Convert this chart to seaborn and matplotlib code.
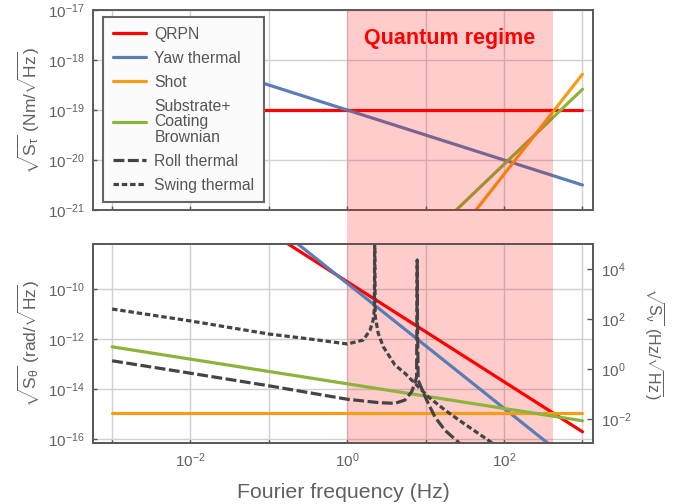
import matplotlib
matplotlib.use("Agg")
import matplotlib.pyplot as plt
import matplotlib.ticker as mticker
import matplotlib.transforms as mtransforms
from matplotlib.lines import Line2D
from matplotlib.patches import Rectangle
import seaborn as sns

# ----------------------------
# Data
# ----------------------------
f_ends = [1e-3, 1e3]

# torque noise, Nm/sqrt(Hz)
qrpn_tau = [1e-19, 1e-19]
yaw_tau = [3.16e-18, 3.16e-21]
shot_tau = [5.2e-31, 5.2e-19]
brown_tau = [2.6e-28, 2.6e-19]

# angle noise, rad/sqrt(Hz)
qrpn_theta = [2.0e-4, 2.0e-16]
yaw_theta = [5.4e-3, 5.5e-18]
shot_theta = [1.15e-15, 1.15e-15]
brown_theta = [5.0e-13, 5.5e-16]

swing_f = [0.001, 0.01, 0.1, 0.316, 1.0, 1.60, 1.95, 2.14, 2.21, 2.228, 2.241,
           2.254, 2.275, 2.48, 2.88, 4.06, 5.43, 10.8, 17.6, 28.6, 46.7, 62.5, 100.0]
swing_theta = [1.62e-11, 5.4e-12, 1.62e-12, 1.05e-12, 6.5e-13, 9.3e-13, 2.3e-12,
               5.9e-12, 1.5e-11, 3.2e-10, 3.0e-8, 3.2e-10, 7.9e-12, 1.74e-12,
               5.0e-13, 9.3e-14, 4.4e-14, 5.0e-15, 1.48e-15, 5.0e-16, 1.74e-16,
               9.3e-17, 3.2e-17]

roll_f = [0.001, 0.01, 0.1, 1.0, 2.61, 4.06, 5.43, 6.61, 7.28, 7.66, 7.74, 7.80,
          7.85, 8.02, 8.87, 10.3, 13.1, 17.6, 25.9, 31.6]
roll_theta = [1.38e-13, 4.4e-14, 1.38e-14, 4.0e-15, 2.9e-15, 2.75e-15, 3.7e-15,
              7.9e-15, 1.74e-14, 3.2e-14, 1.0e-11, 1.48e-9, 1.0e-11, 2.3e-14,
              1.1e-14, 3.7e-15, 7.9e-16, 2.3e-16, 7.9e-17, 4.0e-17]

quantum_band = [1.0, 420.0]

labels = ["QRPN", "Yaw thermal", "Shot", "Substrate+\nCoating\nBrownian",
          "Roll thermal", "Swing thermal"]

C_RED = "#ff0000"
C_BLUE = "#5a7db5"
C_ORANGE = "#f59d17"
C_GREEN = "#8db33a"
C_DARK = "#444444"
TXT = "#606060"

LW = 2.3
ROLL_LS = (0, (3.4, 1.1))
SWING_LS = (0, (1.7, 0.9))

# ----------------------------
# Style
# ----------------------------
sns.set_theme(style="ticks")
plt.rcParams["font.family"] = ["Liberation Sans", "DejaVu Sans"]
plt.rcParams["mathtext.fontset"] = "custom"
plt.rcParams["mathtext.rm"] = "Liberation Sans"
plt.rcParams["mathtext.it"] = "Liberation Sans:italic"
plt.rcParams["mathtext.default"] = "regular"

fig = plt.figure(figsize=(6.75, 5.04), dpi=100)
ax_top = fig.add_axes([0.1378, 0.5833, 0.7407, 0.3968])
ax_bot = fig.add_axes([0.1378, 0.1204, 0.7407, 0.3955])

for ax in (ax_top, ax_bot):
    ax.set_xscale("log")
    ax.set_yscale("log")

# ----------------------------
# Top panel: torque noise
# ----------------------------
sns.lineplot(x=f_ends, y=qrpn_tau, ax=ax_top, color=C_RED, lw=LW)
sns.lineplot(x=f_ends, y=yaw_tau, ax=ax_top, color=C_BLUE, lw=LW)
sns.lineplot(x=f_ends, y=brown_tau, ax=ax_top, color=C_GREEN, lw=LW)
sns.lineplot(x=f_ends, y=shot_tau, ax=ax_top, color=C_ORANGE, lw=LW)

# ----------------------------
# Bottom panel: angle noise
# ----------------------------
sns.lineplot(x=f_ends, y=qrpn_theta, ax=ax_bot, color=C_RED, lw=LW)
sns.lineplot(x=f_ends, y=yaw_theta, ax=ax_bot, color=C_BLUE, lw=LW)
sns.lineplot(x=f_ends, y=shot_theta, ax=ax_bot, color=C_ORANGE, lw=LW)
sns.lineplot(x=f_ends, y=brown_theta, ax=ax_bot, color=C_GREEN, lw=LW)
sns.lineplot(x=roll_f, y=roll_theta, ax=ax_bot, color=C_DARK, lw=LW,
             linestyle=ROLL_LS, sort=False, estimator=None)
sns.lineplot(x=swing_f, y=swing_theta, ax=ax_bot, color=C_DARK, lw=LW,
             linestyle=SWING_LS, sort=False, estimator=None)

# ----------------------------
# Axes limits / ticks
# ----------------------------
xlim = (10 ** -3.243, 10 ** 3.134)
ax_top.set_xlim(xlim)
ax_bot.set_xlim(xlim)
ax_top.set_ylim(1e-21, 1e-17)
ax_bot.set_ylim(10 ** -16.16, 10 ** -8.19)

decades = [1e-3, 1e-2, 1e-1, 1e0, 1e1, 1e2, 1e3]


def even_decade(v, pos):
    import math
    e = int(round(math.log10(v)))
    return r"$\mathdefault{10^{%d}}$" % e if e % 2 == 0 else ""


def any_decade(v, pos):
    import math
    e = int(round(math.log10(v)))
    return r"$\mathdefault{10^{%d}}$" % e


for ax in (ax_top, ax_bot):
    ax.xaxis.set_major_locator(mticker.FixedLocator(decades))
    ax.xaxis.set_major_formatter(mticker.FuncFormatter(even_decade))
    ax.xaxis.set_minor_locator(mticker.NullLocator())
    ax.yaxis.set_minor_locator(mticker.NullLocator())
    ax.grid(True, which="major", color="#d0d0d0", lw=1.0)
    ax.set_axisbelow(True)
    ax.tick_params(direction="in", length=3, width=1, color="#555555",
                   labelsize=11, labelcolor=TXT, pad=6)
    for s in ax.spines.values():
        s.set_color("#5a5a5a")
        s.set_linewidth(1.4)

ax_top.yaxis.set_major_locator(mticker.FixedLocator([1e-21, 1e-20, 1e-19, 1e-18, 1e-17]))
ax_top.yaxis.set_major_formatter(mticker.FuncFormatter(any_decade))
ax_top.tick_params(axis="x", labelbottom=False)

ax_bot.yaxis.set_major_locator(mticker.FixedLocator([1e-16, 1e-14, 1e-12, 1e-10]))
ax_bot.yaxis.set_major_formatter(mticker.FuncFormatter(any_decade))

ax_top.set_ylabel(r"$\sqrt{S_\tau}$ (Nm/$\sqrt{\mathrm{Hz}}$)", fontsize=12.5, color=TXT)
ax_bot.set_ylabel(r"$\sqrt{S_\theta}$ (rad/$\sqrt{\mathrm{Hz}}$)", fontsize=12.5, color=TXT)
ax_bot.set_xlabel("Fourier frequency (Hz)", fontsize=15.3, color=TXT, labelpad=9)

# right-hand frequency-noise scale
ax_r = ax_bot.twinx()
ax_r.set_yscale("log")
ax_r.set_ylim(10 ** -2.96, 10 ** 5.01)
ax_r.yaxis.set_major_locator(mticker.FixedLocator([1e-2, 1e0, 1e2, 1e4]))
ax_r.yaxis.set_major_formatter(mticker.FuncFormatter(any_decade))
ax_r.yaxis.set_minor_locator(mticker.NullLocator())
ax_r.grid(False)
ax_r.tick_params(direction="in", length=4, width=1, color="#555555",
                 labelsize=11, labelcolor=TXT, pad=6)
for s in ax_r.spines.values():
    s.set_color("#5a5a5a")
    s.set_linewidth(1.4)
ax_r.set_ylabel(r"$\sqrt{S_\nu}$ (Hz/$\sqrt{\mathrm{Hz}}$)", fontsize=11.5,
                color=TXT, rotation=270, labelpad=24)

# ----------------------------
# Quantum regime shading
# ----------------------------
ax_top.axvspan(quantum_band[0], quantum_band[1], color="red", alpha=0.2, lw=0, zorder=3)
ax_bot.axvspan(quantum_band[0], quantum_band[1], color="red", alpha=0.2, lw=0, zorder=1)
gap_tr = mtransforms.blended_transform_factory(ax_top.transData, fig.transFigure)
y_lo, y_hi = 0.1204 + 0.3955, 0.5833
fig.add_artist(Rectangle((quantum_band[0], y_lo), quantum_band[1] - quantum_band[0],
                         y_hi - y_lo, transform=gap_tr, facecolor="red",
                         alpha=0.2, lw=0))

txt_tr = mtransforms.blended_transform_factory(ax_top.transData, ax_top.transAxes)
ax_top.text(20.5, 0.86, "Quantum regime", transform=txt_tr, ha="center",
            va="center", color="red", fontsize=15.5, fontweight="bold", zorder=6)

# ----------------------------
# Legend
# ----------------------------
handles = [
    Line2D([], [], color=C_RED, lw=LW),
    Line2D([], [], color=C_BLUE, lw=LW),
    Line2D([], [], color=C_ORANGE, lw=LW),
    Line2D([], [], color=C_GREEN, lw=LW),
    Line2D([], [], color=C_DARK, lw=LW, linestyle=ROLL_LS),
    Line2D([], [], color=C_DARK, lw=LW, linestyle=SWING_LS),
]
leg = ax_top.legend(handles, labels, loc="upper left", bbox_to_anchor=(0.02, 0.965),
                    fancybox=False, frameon=True, edgecolor="#666666",
                    facecolor="#fbfbfb", framealpha=1, fontsize=11.3,
                    handlelength=2.1, handletextpad=0.55, labelspacing=0.57,
                    borderpad=0.62, borderaxespad=0)
leg.get_frame().set_linewidth(1.5)
leg.set_zorder(10)
for t in leg.get_texts():
    t.set_color("#555555")
    t.set_linespacing(1.05)

fig.savefig("out.png", dpi=100)
